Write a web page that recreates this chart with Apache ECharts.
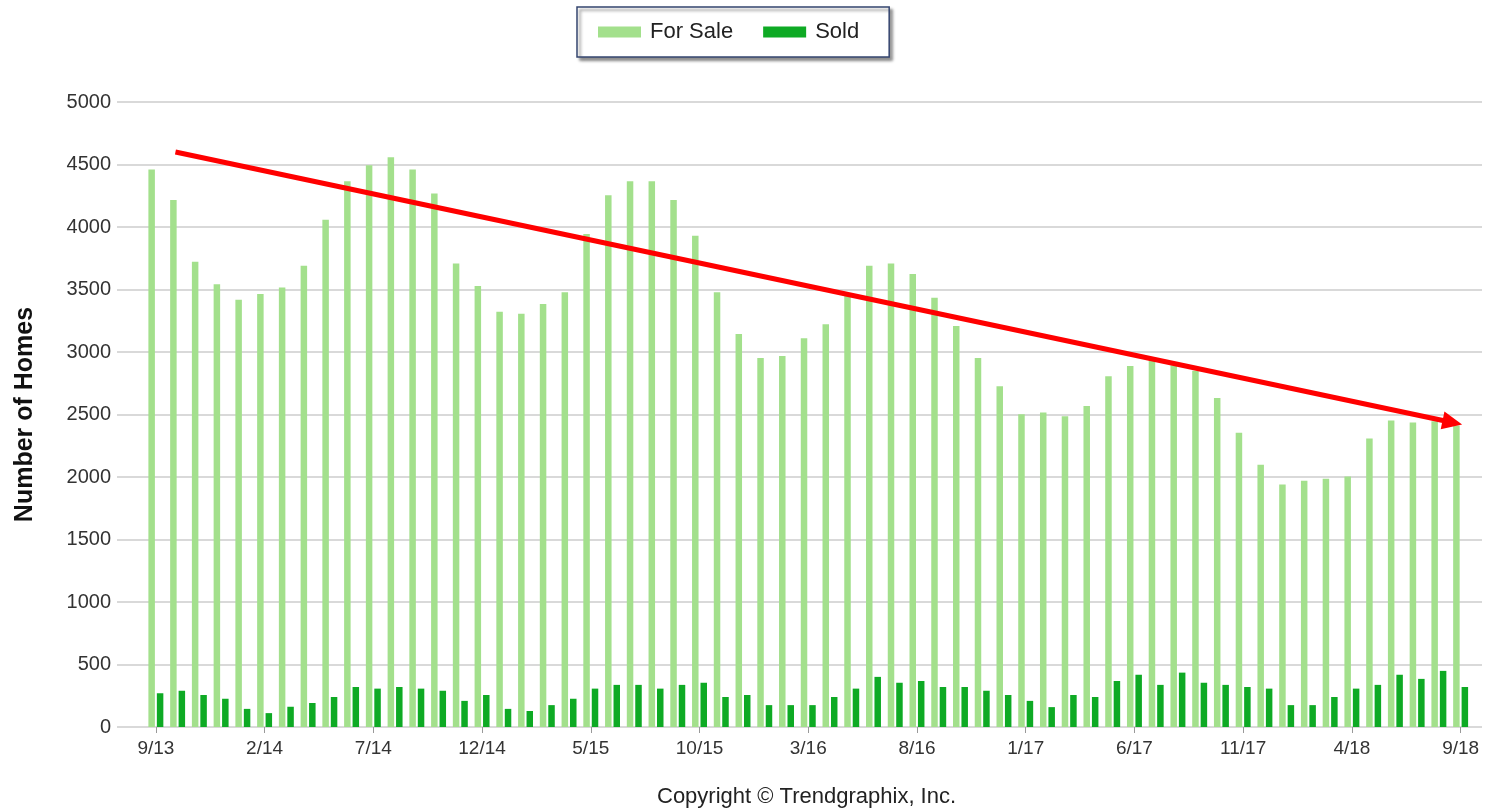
<!DOCTYPE html>
<html>
<head>
<meta charset="utf-8">
<script src="https://cdn.jsdelivr.net/npm/echarts@6/dist/echarts.min.js"></script>
<style>
html,body{margin:0;padding:0;background:#fff;}
#chart{width:1491px;height:812px;}
</style>
</head>
<body>
<div id="chart"></div>
<script>
const categories = ['9/13','10/13','11/13','12/13','1/14','2/14','3/14','4/14','5/14','6/14','7/14','8/14','9/14','10/14','11/14','12/14',
'1/15','2/15','3/15','4/15','5/15','6/15','7/15','8/15','9/15','10/15','11/15','12/15',
'1/16','2/16','3/16','4/16','5/16','6/16','7/16','8/16','9/16','10/16','11/16','12/16',
'1/17','2/17','3/17','4/17','5/17','6/17','7/17','8/17','9/17','10/17','11/17','12/17',
'1/18','2/18','3/18','4/18','5/18','6/18','7/18','8/18','9/18'];
const forSale = [4460,4217,3722,3543,3418,3465,3516,3691,4059,4366,4494,4558,4460,4268,3708,3529,
3323,3307,3384,3479,3944,4255,4366,4366,4217,3931,3479,3145,
2952,2969,3111,3222,3460,3691,3708,3624,3435,3209,2952,2726,
2503,2517,2487,2568,2807,2888,2935,2895,2851,2632,2355,2099,
1940,1970,1987,2004,2308,2453,2436,2446,2412];
const sold = [270,290,256,226,145,111,162,192,240,320,307,320,307,290,209,256,
145,128,175,226,307,337,337,307,337,354,240,256,
175,175,175,240,307,401,354,368,320,320,290,256,
209,159,256,240,368,418,337,435,354,337,320,307,
175,175,240,307,337,418,385,449,320];
const yTicks = [0,500,1000,1500,2000,2500,3000,3500,4000,4500,5000];
const trendStart = [0.9, 4600];
const trendEnd = [59.62, 2436];

const chart = echarts.init(document.getElementById('chart'), null, {renderer:'canvas'});
const labelColor = '#333';
const option = {
  animation:false,
  backgroundColor:'#fff',
  legend:{
    data:['For Sale','Sold'],
    top:7, left:577,
    padding:[14,30,14,21],
    icon:'rect',
    itemWidth:43, itemHeight:11, itemGap:30,
    backgroundColor:'#fff',
    borderColor:'#34456f', borderWidth:1.5,
    shadowColor:'rgba(0,0,0,0.45)', shadowBlur:3, shadowOffsetX:3, shadowOffsetY:3,
    textStyle:{fontFamily:'Liberation Sans', fontSize:22, color:'#222', padding:[0,0,0,4]}
  },
  title:{
    text:'Copyright \u00A9 Trendgraphix, Inc.',
    left:657, top:786,
    textStyle:{fontFamily:'Liberation Sans', fontSize:22, fontWeight:'normal', color:'#222'},
    padding:0, itemGap:0
  },
  grid:[
    {left:117, right:9, top:102, bottom:85},
    {left:145, right:19.5, top:102, bottom:85}
  ],
  xAxis:[
    {type:'category', gridIndex:0, data:categories, show:false},
    {type:'category', gridIndex:1, data:categories,
     axisLine:{show:false},
     axisTick:{show:true, alignWithLabel:true, interval:4, length:6, lineStyle:{color:'#999'}},
     axisLabel:{interval:4, margin:12, fontFamily:'Liberation Sans', fontSize:19, color:labelColor},
     splitLine:{show:false}},
    {type:'value', gridIndex:1, min:-0.5, max:60.5, show:false}
  ],
  yAxis:[
    {type:'value', gridIndex:0, min:0, max:5000, interval:500,
     name:'Number of Homes', nameLocation:'middle', nameGap:79, nameRotate:90,
     nameTextStyle:{fontFamily:'Liberation Sans', fontSize:25, fontWeight:'bold', color:'#111'},
     axisLine:{show:false}, axisTick:{show:false},
     axisLabel:{margin:6, fontFamily:'Liberation Sans', fontSize:20, color:labelColor,
       formatter:v=>yTicks.includes(v)?String(v):''},
     splitLine:{lineStyle:{color:'#cdcdcd', width:1.5}}},
    {type:'value', gridIndex:1, min:0, max:5000, show:false}
  ],
  series:[
    {name:'For Sale', type:'bar', xAxisIndex:1, yAxisIndex:1, data:forSale,
     barWidth:6.5, barGap:'30%', itemStyle:{color:'#a3e08c'}},
    {name:'Sold', type:'bar', xAxisIndex:1, yAxisIndex:1, data:sold,
     barWidth:6.5, barGap:'30%', itemStyle:{color:'#0eaa24'}},
    {name:'Trend', type:'line', xAxisIndex:2, yAxisIndex:1, data:[], silent:true,
     markLine:{
       silent:true, symbol:['none','triangle'], symbolSize:[18,20],
       label:{show:false},
       lineStyle:{color:'#ff0000', width:5, type:'solid'},
       data:[[{coord:trendStart},{coord:trendEnd}]]
     }}
  ]
};
chart.setOption(option);
</script>
</body>
</html>
